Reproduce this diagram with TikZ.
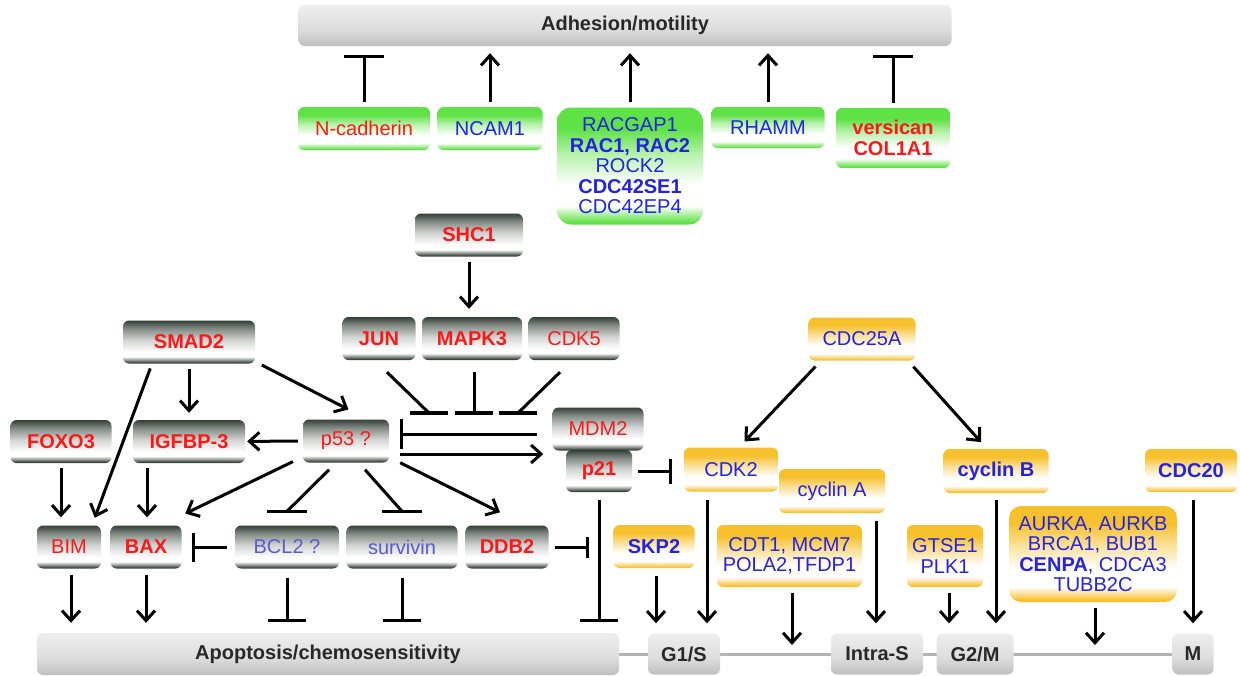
\documentclass[tikz,border=0pt]{standalone}
\usepackage{fontspec}
\setmainfont{Liberation Sans}
\usepackage{tikz}
\usetikzlibrary{arrows.meta}
\usepackage{xcolor}
\definecolor{dkg}{RGB}{52,64,54}
\definecolor{ggrn}{RGB}{95,226,70}
\definecolor{gyel}{RGB}{247,192,45}
\definecolor{gred}{RGB}{250,25,25}
\definecolor{gblue}{RGB}{35,35,225}
\definecolor{gpale}{RGB}{90,90,205}
\definecolor{barline}{RGB}{180,180,180}
\definecolor{bartext}{RGB}{40,40,40}
\pgfdeclareverticalshading{darkshade}{100bp}{color(0bp)=(dkg); color(26bp)=(dkg); color(33bp)=(white); color(38bp)=(white); color(52bp)=(white!78!dkg); color(66bp)=(white!38!dkg); color(75bp)=(dkg); color(100bp)=(dkg)}
\pgfdeclareverticalshading{greenshade}{100bp}{color(0bp)=(ggrn); color(26bp)=(ggrn); color(33bp)=(white); color(42bp)=(white); color(55bp)=(white!55!ggrn); color(66bp)=(ggrn); color(100bp)=(ggrn)}
\pgfdeclareverticalshading{yelshade}{100bp}{color(0bp)=(gyel); color(26bp)=(gyel); color(33bp)=(white); color(42bp)=(white); color(55bp)=(white!50!gyel); color(66bp)=(gyel); color(100bp)=(gyel)}
\pgfdeclareverticalshading{grayshade}{100bp}{color(0bp)=(gray!50); color(25bp)=(gray!50); color(45bp)=(gray!27); color(75bp)=(gray!13); color(100bp)=(gray!13)}
\newcommand{\genefont}{\fontsize{20pt}{20.5pt}\selectfont}
\tikzstyle{genebox} = [rectangle, rounded corners=6pt, inner sep=0pt, align=center, font=\genefont]
\tikzstyle{darkbox} = [genebox, shading=darkshade, minimum height=43pt]
\tikzstyle{greenbox} = [genebox, shading=greenshade]
\tikzstyle{yellowbox} = [genebox, shading=yelshade, text=gblue]
\tikzstyle{graybar} = [genebox, shading=grayshade, minimum height=41pt, text=bartext, font=\genefont\bfseries]
\tikzstyle{act} = [line width=3pt, -{Straight Barb[length=10pt,width=18pt]}, shorten <=5pt, shorten >=7pt]
\tikzstyle{inh} = [line width=3pt, -{Bar[width=38pt]}, shorten <=5pt, shorten >=9pt]
\tikzstyle{stem} = [line width=3pt]
\tikzstyle{tbar} = [line width=3.5pt]
\tikzstyle{phaseline} = [line width=3pt, barline]

\begin{document}
\begin{tikzpicture}[x=1pt, y=-1pt]
\useasboundingbox (0,0) rectangle (1240,675);

% outcome bars and cell cycle
\node[graybar, minimum width=653pt] (adh) at (625,25.5) {Adhesion/motility};
\node[graybar, minimum width=582pt, minimum height=42pt] (apo) at (328,654) {Apoptosis/chemosensitivity};
\node[graybar, minimum width=41pt] (mph) at (1193,654) {M};
\draw[phaseline] (apo.east) -- (mph.west);
\node[graybar, minimum width=72pt] (gos) at (684,654) {G1/S};
\node[graybar, minimum width=92pt] (ins) at (877,654) {Intra-S};
\node[graybar, minimum width=77pt] (gtm) at (975,654) {G2/M};

% adhesion genes
\node[greenbox, minimum width=132pt, minimum height=43pt, text=gred] (ncad) at (364,128.5) {N-cadherin};
\node[greenbox, minimum width=105pt, minimum height=43pt, text=gblue] (ncam) at (490,128.5) {NCAM1};
\node[greenbox, rounded corners=14pt, minimum width=146pt, minimum height=117pt, text=gblue] (rac) at (630,166) {RACGAP1\\\textbf{RAC1, RAC2}\\ROCK2\\\textbf{CDC42SE1}\\CDC42EP4};
\node[greenbox, minimum width=113pt, minimum height=41pt, text=gblue] (rhamm) at (768,127.5) {RHAMM};
\node[greenbox, minimum width=114pt, minimum height=60pt, text=gred, font=\genefont\bfseries] (vers) at (893,138) {versican\\COL1A1};

\draw[inh, -{Bar[width=40pt]}] (ncad) -- (ncad |- adh.south);
\draw[act] (ncam) -- (ncam |- adh.south);
\draw[act] (rac) -- (rac |- adh.south);
\draw[act] (rhamm) -- (rhamm |- adh.south);
\draw[inh, -{Bar[width=40pt]}] (vers) -- (vers |- adh.south);

% apoptosis genes
\node[darkbox, minimum width=108pt, text=gred, font=\genefont\bfseries] (shc) at (469,235) {SHC1};
\node[darkbox, minimum width=73pt, text=gred, font=\genefont\bfseries] (jun) at (379,338.5) {JUN};
\node[darkbox, minimum width=100pt, text=gred, font=\genefont\bfseries] (mapk) at (472,338.5) {MAPK3};
\node[darkbox, minimum width=91pt, text=gred] (cdkfive) at (574,338.5) {CDK5};
\node[darkbox, minimum width=132pt, text=gred, font=\genefont\bfseries] (smad) at (189,342) {SMAD2};
\node[darkbox, minimum width=101pt, text=gred, font=\genefont\bfseries] (foxo) at (61,441.5) {FOXO3};
\node[darkbox, minimum width=112pt, text=gred, font=\genefont\bfseries] (igfbp) at (189,441.5) {IGFBP-3};
\node[darkbox, minimum width=86pt, text=gred] (pft) at (346,441) {p53 ?};
\node[darkbox, minimum width=66pt, minimum height=42pt, text=gred, font=\genefont\bfseries] (pone) at (599,471) {p21};
\node[darkbox, minimum width=91pt, text=gred] (mdm) at (598,429) {MDM2};
\node[darkbox, minimum width=64pt, text=gred] (bim) at (69,547) {BIM};
\node[darkbox, minimum width=71pt, text=gred, font=\genefont\bfseries] (bax) at (146,547) {BAX};
\node[darkbox, minimum width=104pt, text=gpale] (bcl) at (287,547) {BCL2 ?};
\node[darkbox, minimum width=111pt, text=gpale] (surv) at (402,547) {survivin};
\node[darkbox, minimum width=83pt, text=gred, font=\genefont\bfseries] (ddb) at (507,547) {DDB2};

\draw[act, shorten >=8pt] (shc) -- (shc |- mapk.north);
\coordinate (tjun) at (429,413);
\coordinate (tmapk) at (474,413);
\coordinate (tcdk) at (518,413);
\draw[stem] ([xshift=8pt,yshift=-12pt]jun.south) -- (tjun);
\draw[stem, shorten <=12pt] (tmapk |- mapk.south) -- (tmapk);
\draw[stem] ([xshift=-14pt,yshift=-12pt]cdkfive.south) -- (tcdk);
\foreach \t in {tjun,tmapk,tcdk}
  \draw[tbar] ([xshift=-19pt]\t) -- ([xshift=19pt]\t);
\draw[inh, -{Bar[width=30pt]}, shorten <=15pt, shorten >=11pt] ([yshift=-5pt]mdm.west) -- ([yshift=7pt]pft.east);
\draw[act, shorten <=11pt, shorten >=9pt] ([yshift=-13pt]pft.east) -- ([yshift=-25pt]mdm.west);

\draw[act, shorten >=8pt] ([xshift=-37pt]smad.south) -- ([xshift=23pt]bim.north);
\draw[act] (smad) -- (igfbp);
\draw[act, shorten <=3pt, shorten >=4pt] ([xshift=4pt]smad.south east) -- ([xshift=6pt,yshift=8pt]pft.north);
\draw[act, shorten >=2pt] (pft) -- (igfbp);
\draw[act, shorten >=8pt] (foxo) -- (foxo |- bim.north);
\draw[act, shorten >=8pt] ([xshift=-42pt]igfbp.south) -- ([xshift=1pt]bax.north);
\draw[act, shorten <=2pt, shorten >=4pt] ([xshift=-8pt,yshift=2pt]pft.south west) -- ([yshift=10pt]bax.north east);
\draw[act, shorten <=0pt, shorten >=0pt] ([xshift=11pt]pft.south east) -- ([xshift=-7pt,yshift=13pt]ddb.north);
\coordinate (tbcl) at ([yshift=14pt]bcl.north);
\coordinate (tsurv) at ([yshift=14pt]surv.north);
\draw[stem] ([xshift=-17pt,yshift=-7pt]pft.south) -- (tbcl);
\draw[stem] ([xshift=19pt,yshift=-7pt]pft.south) -- (tsurv);
\foreach \t in {tbcl,tsurv}
  \draw[tbar] ([xshift=-20pt]\t) -- ([xshift=20pt]\t);
\draw[inh, -{Bar[width=29pt]}, shorten <=8pt, shorten >=10pt] (bcl) -- (bax);
\draw[inh, -{Bar[width=21pt]}, shorten <=6pt, shorten >=10pt] (ddb) -- (ddb -| pone);
\draw[inh, shorten <=8pt, shorten >=11pt] (pone) -- (pone |- apo.north);
\draw[act, shorten <=6pt, shorten >=10pt] ([xshift=2pt]bim.south) -- ([xshift=2pt]bim.south |- apo.north);
\draw[act, shorten <=6pt, shorten >=10pt] (bax) -- (bax |- apo.north);
\draw[inh, shorten <=9pt, shorten >=11pt] (bcl) -- (bcl |- apo.north);
\draw[inh, shorten <=9pt, shorten >=11pt] (surv) -- (surv |- apo.north);

% cell cycle genes
\node[yellowbox, minimum width=107pt, minimum height=43pt] (cdcta) at (862,339) {CDC25A};
\node[yellowbox, minimum width=94pt, minimum height=44pt] (cdkt) at (731,469.5) {CDK2};
\node[yellowbox, minimum width=106pt, minimum height=44pt] (cyca) at (832,491) {cyclin A};
\node[yellowbox, minimum width=105pt, minimum height=44pt, font=\genefont\bfseries] (cycb) at (996,471) {cyclin B};
\node[yellowbox, minimum width=92pt, minimum height=43pt, font=\genefont\bfseries] (cdctw) at (1191,470.5) {CDC20};
\node[yellowbox, minimum width=81pt, minimum height=43pt, font=\genefont\bfseries] (skp) at (654,546.5) {SKP2};
\node[yellowbox, minimum width=145pt, minimum height=62pt] (cdt) at (789.5,556) {CDT1, MCM7\\POLA2,TFDP1};
\node[yellowbox, minimum width=76pt, minimum height=62pt] (gtse) at (945,556) {GTSE1\\PLK1};
\node[yellowbox, rounded corners=12pt, minimum width=168pt, minimum height=96pt] (aurk) at (1093,554) {AURKA, AURKB\\BRCA1, BUB1\\\textbf{CENPA}, CDCA3\\TUBB2C};

\draw[inh, -{Bar[width=25pt]}, shorten <=6pt, shorten >=12pt] (pone) -- (pone -| cdkt.west);
\draw[act, shorten <=8pt, shorten >=8pt] ([xshift=-41pt]cdcta.south) -- ([xshift=8pt]cdkt.north);
\draw[act, shorten <=8pt, shorten >=9pt] ([xshift=46pt]cdcta.south) -- ([xshift=-9pt]cycb.north);
\draw[act, shorten <=8pt, shorten >=10pt] ([xshift=2pt]skp.south) -- ([xshift=2pt]skp.south |- gos.north);
\draw[act, shorten <=8pt, shorten >=10pt] ([xshift=-24pt]cdkt.south) -- ([xshift=-24pt]cdkt.south |- gos.north);
\draw[act, shorten <=6pt, shorten >=9pt] ([xshift=2.5pt]cdt.south) -- ([xshift=2.5pt]cdt.south |- apo.east);
\draw[act, shorten <=8pt, shorten >=10pt] ([xshift=44pt]cyca.south) -- ([xshift=44pt]cyca.south |- ins.north);
\draw[act, shorten <=6pt, shorten >=10pt] ([xshift=4pt]gtse.south) -- ([xshift=4pt]gtse.south |- gtm.north);
\draw[act, shorten <=7pt, shorten >=10pt] (cycb) -- (cycb |- gtm.north);
\draw[act, shorten <=6pt, shorten >=9pt] ([xshift=2pt]aurk.south) -- ([xshift=2pt]aurk.south |- apo.east);
\draw[act, shorten <=8pt, shorten >=10pt] ([xshift=2pt]cdctw.south) -- ([xshift=2pt]cdctw.south |- mph.north);
\end{tikzpicture}
\end{document}
